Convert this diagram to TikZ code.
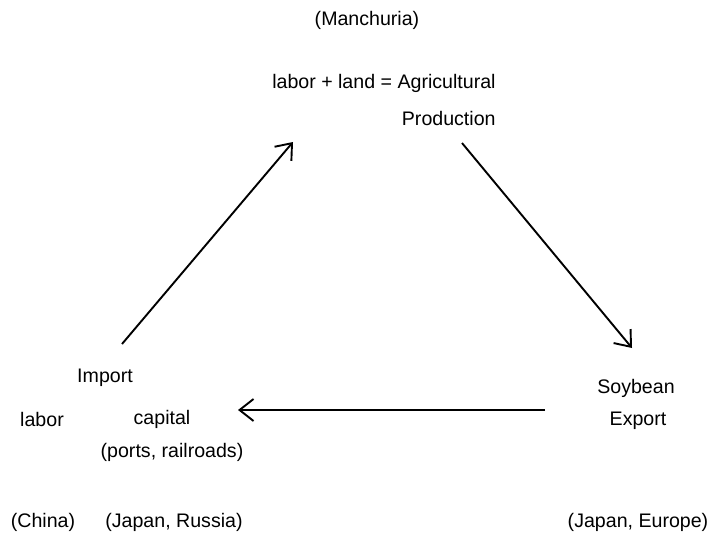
\documentclass[tikz,border=0pt]{standalone}
\usepackage{fontspec}
\setmainfont{Liberation Sans}
\usetikzlibrary{arrows.meta}

\begin{document}
\begin{tikzpicture}[x=0.5pt, y=-0.5pt,
    every node/.style={inner sep=0, font=\fontsize{9.8}{12}\selectfont},
    flow/.style={-{Straight Barb[length=7pt, width=11pt]}, line width=0.95pt}]
      \useasboundingbox (0,0) rectangle (711,535);

      % Manchuria
      \node (manchuria) at (367,20) {(Manchuria)};
      \node[anchor=east] (agri) at (496,83) {labor + land = Agricultural};
      \node[anchor=east] (production) at (496,118) {Production};

      % Import side
      \node (import) at (105,378) {Import};
      \node (labor) at (42,419) {labor};
      \node (capital) at (162,419) {capital};
      \node (ports) at (172,452) {(ports, railroads)};

      % Export side
      \node (soybean) at (636,388) {Soybean};
      \node (export) at (638,421) {Export};

      % Regions
      \foreach \name/\x/\txt in {china/43/{(China)}, japru/174/{(Japan, Russia)}, japeu/638/{(Japan, Europe)}} {
        \node (\name) at (\x,522) {\txt};
      }

      % Arrows
      \coordinate (upfrom) at (122,344);
      \coordinate (upto) at (293,142);
      \coordinate (downfrom) at (462,143);
      \coordinate (downto) at (632,348);
      \coordinate (backfrom) at (545,410);
      \coordinate (backto) at (238,410);
      \draw[flow] (upfrom) -- (upto);
      \draw[flow] (downfrom) -- (downto);
      \draw[flow] (backfrom) -- (backto);
    \end{tikzpicture}
\end{document}
